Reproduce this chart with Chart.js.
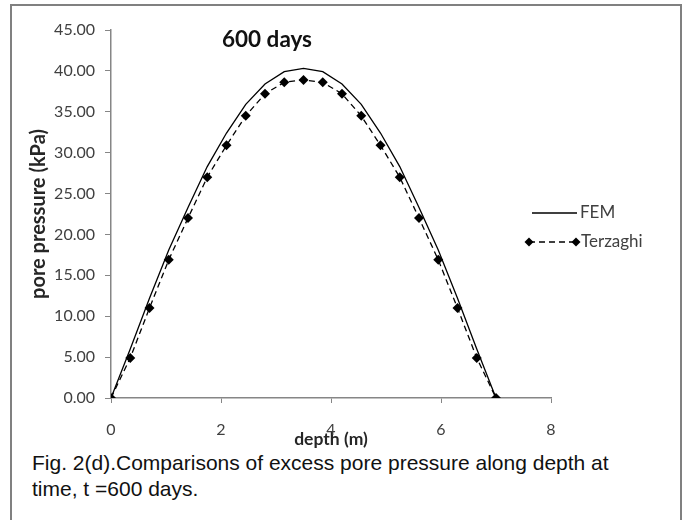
<!DOCTYPE html>
<html>
<head>
<meta charset="utf-8">
<script src="https://cdn.jsdelivr.net/npm/chart.js@4/dist/chart.umd.min.js"></script>
<style>
  body { margin: 0; background: #fff; }
  #frame {
    position: absolute; left: 10px; top: 4px; width: 668px; height: 530px;
    border: 2px solid #808080;
  }
  #wrap { position: absolute; left: 0; top: 0; width: 688px; height: 450px; }
  #caption {
    position: absolute; left: 32px; top: 450px;
    font-family: "Liberation Sans", Arial, sans-serif; font-size: 21px; line-height: 26px;
    color: #111;
  }
</style>
</head>
<body>
<div id="frame"></div>
<div id="wrap"><canvas id="chart" width="688" height="450"></canvas></div>
<div id="caption">Fig. 2(d).Comparisons of excess pore pressure along depth at<br>time, t =600 days.</div>
<script>
document.addEventListener("DOMContentLoaded", function () {
  const depth = [0, 0.35, 0.7, 1.05, 1.4, 1.75, 2.1, 2.45, 2.8, 3.15, 3.5,
                 3.85, 4.2, 4.55, 4.9, 5.25, 5.6, 5.95, 6.3, 6.65, 7.0];
  const fem = [0, 6.0, 12.2, 18.1, 23.3, 28.3, 32.4, 35.9, 38.4, 39.9, 40.3,
               39.9, 38.4, 35.9, 32.4, 28.3, 23.3, 18.1, 12.2, 6.0, 0];
  const terzaghi = [0, 4.9, 11.0, 16.9, 22.0, 27.0, 30.9, 34.5, 37.2, 38.6, 38.9,
                    38.6, 37.2, 34.5, 30.9, 27.0, 22.0, 16.9, 11.0, 4.9, 0];
  const chartTitle = "600 days";
  const xLabel = "depth (m)";
  const yLabel = "pore pressure (kPa)";

  const axisColor = "#868686";
  const textColor = "#404040";
  const fontFamily = "Lato, 'Noto Sans', sans-serif";

  const toPoints = (ys) => depth.map((x, i) => ({ x: x, y: ys[i] }));

  // title + legend drawn by hand, the Excel layout doesn't fit chart.js boxes
  const overlay = {
    id: "overlay",
    afterDraw(chart) {
      const c = chart.ctx;
      c.save();
      c.fillStyle = "#111";
      c.font = "bold 22.5px " + fontFamily;
      c.textAlign = "center";
      c.textBaseline = "alphabetic";
      c.fillText(chartTitle, 267, 47);

      const ds = chart.data.datasets;
      c.font = "17px " + fontFamily;
      c.textAlign = "left";
      c.textBaseline = "middle";
      c.fillStyle = textColor;

      // FEM
      c.strokeStyle = ds[0].borderColor;
      c.lineWidth = ds[0].borderWidth;
      c.beginPath();
      c.moveTo(532, 213);
      c.lineTo(577, 213);
      c.stroke();
      c.fillText(ds[0].label, 580, 213);

      // Terzaghi
      c.lineWidth = ds[1].borderWidth;
      c.setLineDash(ds[1].borderDash);
      c.beginPath();
      c.moveTo(529, 242);
      c.lineTo(576, 242);
      c.stroke();
      c.setLineDash([]);
      [529, 576].forEach((px) => {
        c.beginPath();
        c.moveTo(px, 242 - 4.5);
        c.lineTo(px + 4.5, 242);
        c.lineTo(px, 242 + 4.5);
        c.lineTo(px - 4.5, 242);
        c.closePath();
        c.fillStyle = "#000";
        c.fill();
      });
      c.fillStyle = textColor;
      c.fillText(ds[1].label, 581, 242);
      c.restore();
    }
  };

  new Chart(document.getElementById("chart"), {
    type: "scatter",
    data: {
      datasets: [
        {
          label: "FEM",
          data: toPoints(fem),
          showLine: true,
          borderColor: "#000",
          borderWidth: 1.3,
          pointRadius: 0,
          tension: 0
        },
        {
          label: "Terzaghi",
          data: toPoints(terzaghi),
          showLine: true,
          borderColor: "#000",
          backgroundColor: "#000",
          borderWidth: 1.3,
          borderDash: [6, 4],
          pointStyle: "rectRot",
          pointRadius: 5,
          pointBorderWidth: 0,
          tension: 0
        }
      ]
    },
    options: {
      responsive: false,
      animation: false,
      layout: { padding: { left: 0, right: 137, top: 30, bottom: 0 } },
      plugins: {
        legend: { display: false },
        tooltip: { enabled: false }
      },
      scales: {
        x: {
          type: "linear",
          min: 0,
          max: 8,
          ticks: {
            stepSize: 2,
            padding: 17,
            color: textColor,
            font: { family: fontFamily, size: 16 }
          },
          grid: { drawOnChartArea: false, tickLength: 5, color: axisColor },
          border: { color: axisColor, width: 1.5 },
          title: {
            display: true,
            text: xLabel,
            color: "#262626",
            font: { family: fontFamily, size: 17.5, weight: "bold" },
            padding: { top: 0, bottom: 0 }
          },
          afterFit(scale) { scale.height = 52; }
        },
        y: {
          min: 0,
          max: 45,
          ticks: {
            stepSize: 5,
            padding: 10,
            color: textColor,
            font: { family: fontFamily, size: 16 },
            callback: (v) => v.toFixed(2)
          },
          grid: { drawOnChartArea: false, tickLength: 6, color: axisColor },
          border: { color: axisColor, width: 1.5 },
          title: {
            display: true,
            text: yLabel,
            color: "#262626",
            font: { family: fontFamily, size: 20, weight: "bold" },
            padding: { top: 27, bottom: 0 }
          },
          afterFit(scale) { scale.width = 111; }
        }
      }
    },
    plugins: [overlay]
  });
});
</script>
</body>
</html>
